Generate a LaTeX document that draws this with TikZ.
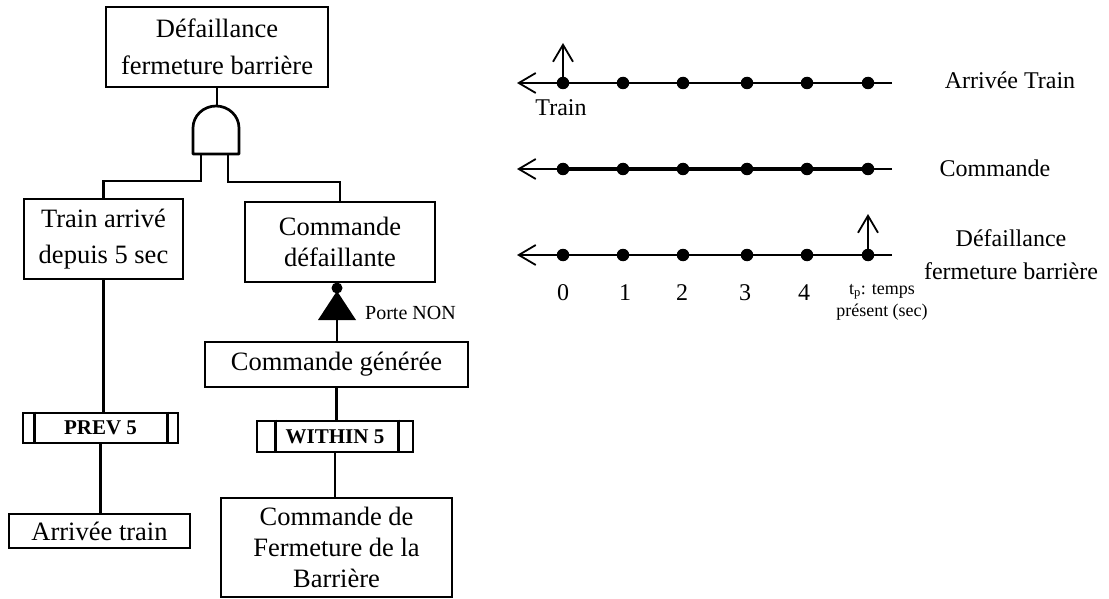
\documentclass[tikz,border=0pt]{standalone}
\usepackage{fontspec}
\setmainfont{Liberation Serif}
\usetikzlibrary{arrows.meta}
\begin{document}
\begin{tikzpicture}[x=1pt,y=-1pt,
  box/.style={draw,line width=2.7pt,inner sep=0pt,align=center,
    font=\fontsize{26.5}{36}\selectfont},
  opbox/.style={draw,line width=2.7pt,inner sep=0pt,
    font=\fontsize{21}{24}\selectfont\bfseries},
  wire/.style={line width=2.5pt},
  tl/.style={line width=1.8pt},
  tlbold/.style={line width=3.8pt},
  dot/.style={circle,fill=black,inner sep=0pt,minimum size=12.5pt},
  tip/.style={-{Straight Barb[length=17pt,width=20pt,line width=1.8pt]}},
  lbl/.style={inner sep=0pt,align=center,font=\fontsize{24}{33}\selectfont},
  small/.style={inner sep=0pt,align=center,font=\fontsize{18}{22}\selectfont}
]
\useasboundingbox (0,0) rectangle (1109,599);

% ---------- fault tree ----------
\node[box,minimum width=222pt,minimum height=80pt,
  font=\fontsize{26.5}{37}\selectfont] (top) at (217,47)
  {Défaillance\\fermeture barrière};
\node[box,minimum width=159pt,minimum height=80pt] (train) at (103.5,239)
  {Train arrivé\\depuis 5 sec};
\node[box,minimum width=190pt,minimum height=80pt,
  font=\fontsize{26.5}{31}\selectfont] (cmdf) at (340,242)
  {Commande\\défaillante};
\node[opbox,minimum width=155pt,minimum height=30pt] (prev) at (100.5,428) {PREV 5};
\node[box,minimum width=181pt,minimum height=34pt] (arr) at (99.5,531) {Arrivée train};
\node[box,minimum width=263pt,minimum height=45pt] (gen) at (336.5,364.5) {Commande générée};
\node[opbox,minimum width=156pt,minimum height=31pt] (within) at (335,436.5) {WITHIN 5};
\node[box,minimum width=231pt,minimum height=99pt,
  font=\fontsize{26.5}{31}\selectfont] (cmdfb) at (336.5,547.5)
  {Commande de\\Fermeture de la\\Barrière};

% side bars of the temporal operators
\draw[line width=2.4pt] ([xshift=13pt]prev.north west) -- ([xshift=13pt]prev.south west)
  ([xshift=-12pt]prev.north east) -- ([xshift=-12pt]prev.south east);
\draw[line width=2.4pt] ([xshift=20pt]within.north west) -- ([xshift=20pt]within.south west)
  ([xshift=-16pt]within.north east) -- ([xshift=-16pt]within.south east);

% AND gate
\coordinate (gtop) at (217,106);
\coordinate (legL) at (201,154);
\coordinate (legR) at (228,154);
\draw[line width=2.7pt,line join=round] (193,154) -- (193,128)
  arc[start angle=180,end angle=0,x radius=23pt,y radius=22pt] -- (239,154) -- cycle;
\draw[wire] (top.south) -- (gtop);
\draw[wire] (legL) -- (201,181) -| (train.north);
\draw[wire] (legR) -- (228,182) -| (cmdf.north);

% NOT gate
\coordinate (notin) at (337,320);
\fill (337,288) circle[radius=5.5pt];
\fill (318,320) -- (337,291) -- (356,320) -- cycle;
\node[inner sep=0pt,anchor=west,font=\fontsize{20}{22}\selectfont] (non) at (365,313) {Porte NON};
\draw[wire] (notin) -- (notin |- gen.north);

% vertical links
\draw[wire] (train.south) -- (train.south |- prev.north);
\draw[wire] (prev.south) -- (prev.south |- arr.north);
\draw[wire] (gen.south) -- (gen.south |- within.north);
\draw[wire] (within.south) -- (within.south |- cmdfb.north);

% ---------- timelines ----------
\foreach \r/\y in {1/83,2/169,3/255}{
  \coordinate (tip\r) at (517,\y);
  \coordinate (end\r) at (892,\y);
  \draw[tl,tip] (end\r) -- (tip\r);
  \foreach \i/\x in {0/563,1/623,2/683,3/747,4/807,5/868}
    \node[dot] (d\r\i) at (\x,\y) {};
}
\draw[tlbold] (d20.center) -- (d25.center);

\coordinate (up1) at (563,43);
\coordinate (up3) at (868,214);
\draw[tl,tip] (d10.center) -- (up1);
\draw[tl,tip] (d35.center) -- (up3);

\node[lbl] (ltrain) at (561,108) {Train};
\node[lbl] (l1) at (1010,80) {Arrivée Train};
\node[lbl] (l2) at (995,168) {Commande};
\node[lbl] (l3) at (1011,255) {Défaillance\\fermeture barrière};

\foreach \i/\x in {0/563,1/625,2/682,3/745,4/804}
  \node[lbl] (n\i) at (\x,293) {\i};
\node[small] (tp) at (882,302) {t\textsubscript{p}: temps\\présent (sec)};
\end{tikzpicture}
\end{document}
